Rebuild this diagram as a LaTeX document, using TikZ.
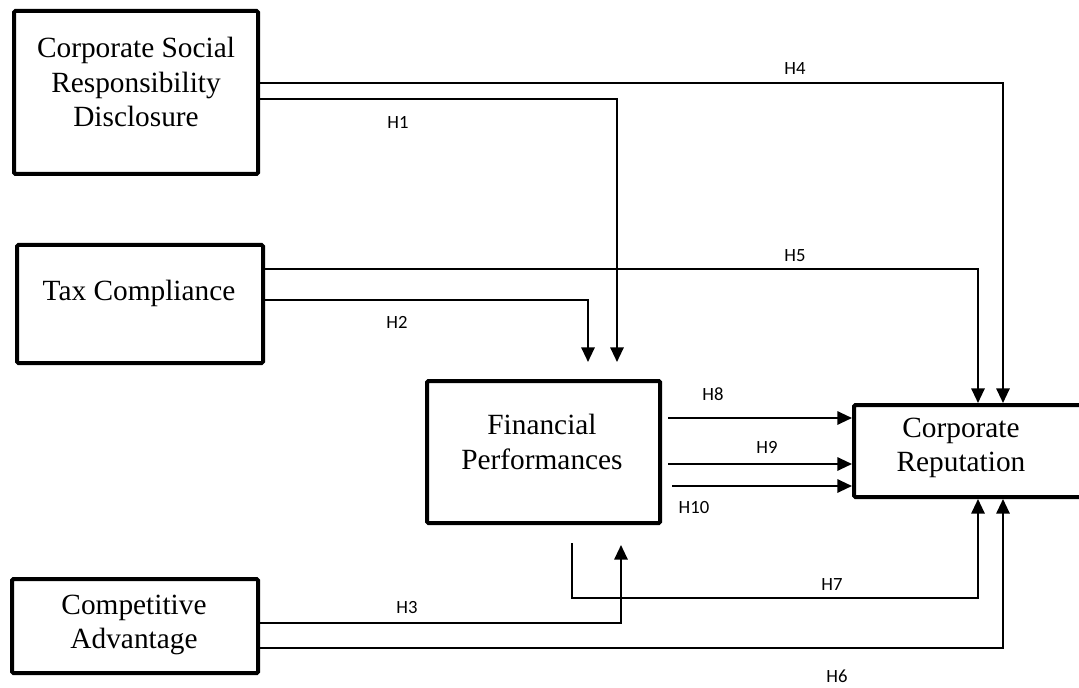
\documentclass[tikz,border=0pt]{standalone}
\usepackage{fontspec}
\setmainfont{Liberation Serif}
\newfontfamily\lblfont{Carlito}
\usetikzlibrary{arrows.meta}
\begin{document}
\begin{tikzpicture}[x=0.75pt,y=-0.75pt,
  box/.style={draw,line width=3pt,inner sep=0pt,rounded corners=1pt},
  txt/.style={font=\fontsize{22}{26}\selectfont,align=center,inner sep=0pt},
  lbl/.style={font=\lblfont\fontsize{14}{16}\selectfont,inner sep=0pt},
  conn/.style={line width=1.5pt,-{Triangle[length=11pt,width=10pt]}}]
\useasboundingbox (0,0) rectangle (1079,688);
\clip (0,0) rectangle (1079,688);
% boxes
\node[box,minimum width=183pt,minimum height=122.25pt] (csr) at (136,92.5) {};
\node[box,minimum width=184.5pt,minimum height=88.5pt] (tax) at (140,304) {};
\node[box,minimum width=184.5pt,minimum height=70.5pt] (ca) at (135,626) {};
\node[box,minimum width=174.75pt,minimum height=106.5pt] (fp) at (543.5,452) {};
\node[box,minimum width=187.5pt,minimum height=69pt] (cr) at (979,451) {};
% box texts
\node[txt] (csrt) at (136,82) {Corporate Social\\Responsibility\\Disclosure};
\node[txt] (taxt) at (139,293) {Tax Compliance};
\node[txt] (cat) at (134,625) {Competitive\\Advantage};
\node[txt] (fpt) at (542,442) {Financial\\Performances};
\node[txt] (crt) at (961,448) {Corporate\\Reputation};
% coordinates
\coordinate (h4c) at (1003,83);
\coordinate (h1c) at (617,99);
\coordinate (h1e) at (617,362);
\coordinate (h5c) at (978,269);
\coordinate (h2c) at (588,300);
\coordinate (h2e) at (588,362);
\coordinate (h8s) at (668,418);
\coordinate (h9s) at (668,464);
\coordinate (h10s) at (672,486);
\coordinate (h7s) at (572,543);
\coordinate (h7c) at (978,598);
\coordinate (h3c) at (621,623);
\coordinate (h3e) at (621,545);
\coordinate (h6c) at (1003,648);
% connectors
\draw[conn] (csr.east |- h4c) -| (cr.north -| h4c);
\draw[conn] (csr.east |- h1c) -| (h1e);
\draw[conn] (tax.east |- h5c) -| (cr.north -| h5c);
\draw[conn] (tax.east |- h2c) -| (h2e);
\draw[conn] (h8s) -- (cr.west |- h8s);
\draw[conn] (h9s) -- (cr.west |- h9s);
\draw[conn] (h10s) -- (cr.west |- h10s);
\draw[conn] (h7s) |- (h7c) -- (cr.south -| h7c);
\draw[conn] (ca.east |- h3c) -| (h3e);
\draw[conn] (ca.east |- h6c) -| (cr.south -| h6c);
% labels
\node[lbl] (l4) at (795,68.5) {H4};
\node[lbl] (l1) at (398,122) {H1};
\node[lbl] (l5) at (795,256) {H5};
\node[lbl] (l2) at (397,322) {H2};
\node[lbl] (l8) at (713,394) {H8};
\node[lbl] (l9) at (767,447) {H9};
\node[lbl] (l10) at (694,508) {H10};
\node[lbl] (l7) at (832,585) {H7};
\node[lbl] (l3) at (407,608) {H3};
\node[lbl] (l6) at (837,676) {H6};
\end{tikzpicture}
\end{document}
